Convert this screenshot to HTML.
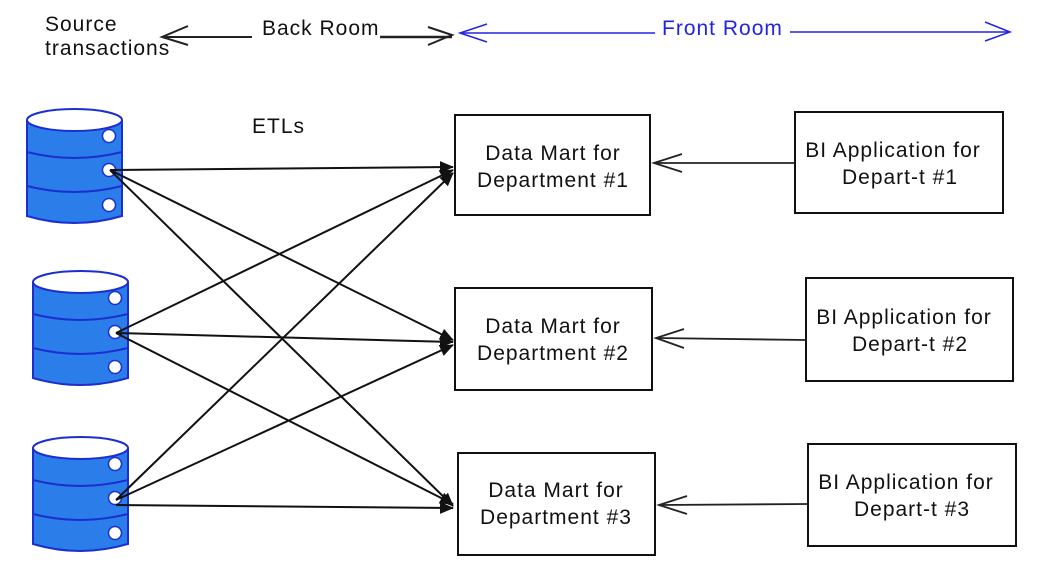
<!DOCTYPE html>
<html><head><meta charset="utf-8"><style>
html,body{margin:0;padding:0;background:#fff;width:1037px;height:563px;overflow:hidden}
svg text{font-family:"Liberation Sans",sans-serif;font-size:21px;letter-spacing:1px;fill:#111}
</style></head><body>
<svg width="1037" height="563" viewBox="0 0 1037 563" xmlns="http://www.w3.org/2000/svg">
<defs>
<marker id="ah" markerWidth="14" markerHeight="12" refX="13" refY="6" orient="auto" markerUnits="userSpaceOnUse"><path d="M0,0 L14,6 L0,12 Z" fill="#111"/></marker>
<g id="db">
<path d="M0,12 L0,108 Q47,122 95,108 L95,12" fill="#2b7de9" stroke="#1b2fcf" stroke-width="2"/>
<ellipse cx="47.5" cy="12" rx="47.5" ry="11" fill="#fff" stroke="#1b2fcf" stroke-width="2"/>
<path d="M0,44 Q47,56 95,44 M0,78 Q47,90 95,78" fill="none" stroke="#1b2fcf" stroke-width="2"/>
<circle cx="82" cy="28" r="6.5" fill="#fff" stroke="#1b2fcf" stroke-width="1.5"/>
<circle cx="82" cy="62" r="6.5" fill="#fff" stroke="#1b2fcf" stroke-width="1.5"/>
<circle cx="82" cy="97" r="6.5" fill="#fff" stroke="#1b2fcf" stroke-width="1.5"/>
</g>
</defs>
<!-- header -->
<text x="45" y="31">Source</text>
<text x="45" y="55">transactions</text>
<line x1="252" y1="37" x2="162" y2="37" stroke="#222" stroke-width="2"/>
<path d="M188,26 L162,37 L188,45" fill="none" stroke="#222" stroke-width="2"/>
<text x="262" y="35">Back Room</text>
<line x1="380" y1="37" x2="452" y2="37" stroke="#222" stroke-width="2.5"/>
<path d="M428,27 L452,35 L428,45" fill="none" stroke="#222" stroke-width="2"/>
<line x1="460" y1="33" x2="655" y2="33" stroke="#2424e0" stroke-width="1.5"/>
<path d="M487,24 L460,33 L487,42" fill="none" stroke="#2424e0" stroke-width="1.5"/>
<text x="662" y="35" style="fill:#2424e0">Front Room</text>
<line x1="790" y1="32" x2="1010" y2="32" stroke="#2424e0" stroke-width="1.5"/>
<path d="M985,22 L1010,32 L985,41" fill="none" stroke="#2424e0" stroke-width="1.5"/>
<text x="252" y="133">ETLs</text>
<!-- dbs -->
<use href="#db" x="27" y="108"/>
<use href="#db" x="33" y="270"/>
<use href="#db" x="33" y="436"/>
<!-- etl lines -->
<g stroke="#111" stroke-width="2" marker-end="url(#ah)">
<line x1="110" y1="170" x2="453" y2="167"/>
<line x1="110" y1="170" x2="453" y2="340"/>
<line x1="110" y1="170" x2="453" y2="506"/>
<line x1="116" y1="333" x2="453" y2="170"/>
<line x1="116" y1="333" x2="453" y2="342"/>
<line x1="116" y1="333" x2="453" y2="504"/>
<line x1="116" y1="500" x2="453" y2="173"/>
<line x1="116" y1="500" x2="453" y2="345"/>
<line x1="116" y1="505" x2="453" y2="508"/>
</g>
<!-- boxes -->
<g fill="#fff" stroke="#111" stroke-width="2">
<rect x="455" y="115" width="195" height="100"/>
<rect x="455" y="288" width="197" height="102"/>
<rect x="458" y="453" width="197" height="102"/>
<rect x="795" y="112" width="208" height="101"/>
<rect x="806" y="278" width="207" height="103"/>
<rect x="808" y="444" width="208" height="102"/>
</g>
<g text-anchor="middle">
<text x="553" y="160">Data Mart for</text><text x="553" y="187">Department #1</text>
<text x="553" y="333">Data Mart for</text><text x="553" y="360">Department #2</text>
<text x="556" y="497">Data Mart for</text><text x="556" y="524">Department #3</text>
<text x="893" y="157">BI Application for</text><text x="900" y="184">Depart-t #1</text>
<text x="904" y="324">BI Application for</text><text x="910" y="351">Depart-t #2</text>
<text x="906" y="489">BI Application for</text><text x="912" y="516">Depart-t #3</text>
</g>
<!-- BI arrows -->
<g fill="none" stroke="#222" stroke-width="1.8">
<line x1="795" y1="163" x2="654" y2="163"/><path d="M682,154 L654,163 L682,172"/>
<line x1="806" y1="340" x2="656" y2="338"/><path d="M684,329 L656,338 L684,348"/>
<line x1="808" y1="504" x2="659" y2="505"/><path d="M687,496 L659,505 L687,514"/>
</g>
</svg>
</body></html>
